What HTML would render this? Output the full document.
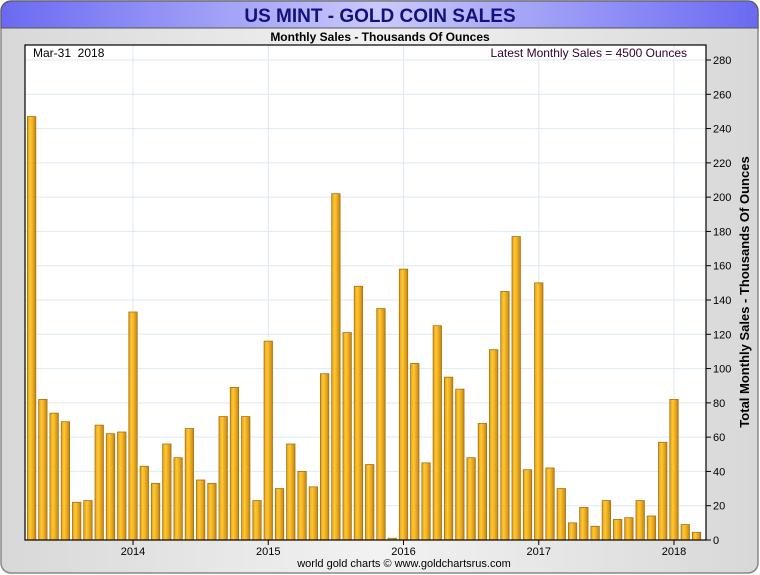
<!DOCTYPE html>
<html><head><meta charset="utf-8"><style>
body{margin:0;background:#fff;}
#wrap{position:relative;width:760px;height:575px;overflow:hidden;font-family:"Liberation Sans",sans-serif;}
</style></head><body>
<div id="wrap">
<svg id="svg" width="760" height="575" xmlns="http://www.w3.org/2000/svg">
<defs>
<linearGradient id="tg" x1="0" x2="1" y1="0" y2="0">
<stop offset="0" stop-color="#6a6af2"/><stop offset="0.5" stop-color="#c9c9fb"/><stop offset="1" stop-color="#6a6af2"/></linearGradient>
<linearGradient id="bg" x1="0" x2="1" y1="0" y2="0">
<stop offset="0" stop-color="#d8d8d8"/><stop offset="0.5" stop-color="#f2f2f2"/><stop offset="1" stop-color="#d8d8d8"/></linearGradient>
<linearGradient id="bar" x1="0" x2="1" y1="0" y2="0">
<stop offset="0" stop-color="#e0a020"/><stop offset="0.35" stop-color="#ffc830"/><stop offset="0.6" stop-color="#f0b020"/><stop offset="1" stop-color="#c08418"/></linearGradient>
</defs>
<rect x="1" y="1" width="757" height="572" rx="10" fill="url(#bg)" stroke="#888" stroke-width="1.5"/>
<path d="M1,11 a10,10 0 0 1 10,-10 h737 a10,10 0 0 1 10,10 v17 h-757 z" fill="url(#tg)" stroke="#555" stroke-width="1"/>
<text x="380" y="22" text-anchor="middle" font-size="19" font-weight="bold" fill="#12127a">US MINT - GOLD COIN SALES</text>
<text x="380" y="41" text-anchor="middle" font-size="12" font-weight="bold" fill="#000">Monthly Sales - Thousands Of Ounces</text>
<rect x="25" y="45" width="681" height="495" fill="#fff"/>
<g id="grid"></g>
<g id="bars"></g>
<rect x="25" y="45" width="681" height="495" fill="none" stroke="#000" stroke-width="1.2"/>
<g id="axes"></g>
<text x="33" y="57" font-size="12" fill="#000">Mar-31&#160;&#160;2018</text>
<text x="687" y="57" text-anchor="end" font-size="12" fill="#300030">Latest Monthly Sales = 4500 Ounces</text>
<text transform="translate(749,292) rotate(-90)" text-anchor="middle" font-size="13" font-weight="bold" fill="#000">Total Monthly Sales - Thousands Of Ounces</text>
<text x="404" y="567" text-anchor="middle" font-size="11" fill="#000">world gold charts © www.goldchartsrus.com</text>
</svg>
</div>
<script>
const values=[247,82,74,69,22,23,67,62,63,133,43,33,56,48,65,35,33,72,89,72,23,116,30,56,40,31,97,202,121,148,44,135,1,158,103,45,125,95,88,48,68,111,145,177,41,150,42,30,10,19,8,23,12,13,23,14,57,82,9,4.5];
const yTicks=[0,20,40,60,80,100,120,140,160,180,200,220,240,260,280];
const yearLabels=["2014","2015","2016","2017","2018"];
const yearIndex=[9,21,33,45,57];
const NS="http://www.w3.org/2000/svg";
const y0=540,yTop=60,vMax=280;
function yS(v){return y0-(v/vMax)*(y0-yTop);}
const c0=31.6,step=11.27;
function xS(i){return c0+i*step;}
function mk(t,a,p){const e=document.createElementNS(NS,t);for(const k in a)e.setAttribute(k,a[k]);p.appendChild(e);return e;}
const grid=document.getElementById('grid'),bars=document.getElementById('bars'),axes=document.getElementById('axes');
yTicks.forEach(v=>{
 const y=yS(v);
 if(v>0){const g=mk('line',{x1:25,x2:706,y1:y,y2:y,stroke:'#dde9f5','stroke-width':1},grid);
 
 }
 const t=mk('line',{x1:706,x2:711,y1:y,y2:y,stroke:'#000'},axes);
 
 
 const l=mk('text',{x:713,y:y+4,'font-size':11,fill:'#000'},axes);l.textContent=v;
 
 
});
yearLabels.forEach((lab,k)=>{
 const x=xS(yearIndex[k]);
 const g=mk('line',{x1:x,x2:x,y1:45,y2:540,stroke:'#dde9f5'},grid);
 
 
 const t=mk('line',{x1:x,x2:x,y1:540,y2:545,stroke:'#000'},axes);
 
 
 const l=mk('text',{x:x,y:555,'font-size':11,fill:'#000','text-anchor':'middle'},axes);l.textContent=lab;
 
 
});
values.forEach((v,i)=>{
 const x=xS(i),y=yS(v);
 const r=mk('rect',{x:x-4.2,y:y,width:8.4,height:Math.max(0.5,y0-y),fill:'url(#bar)',stroke:'#a87010','stroke-width':0.8},bars);
 
 
});
</script>
</body></html>
